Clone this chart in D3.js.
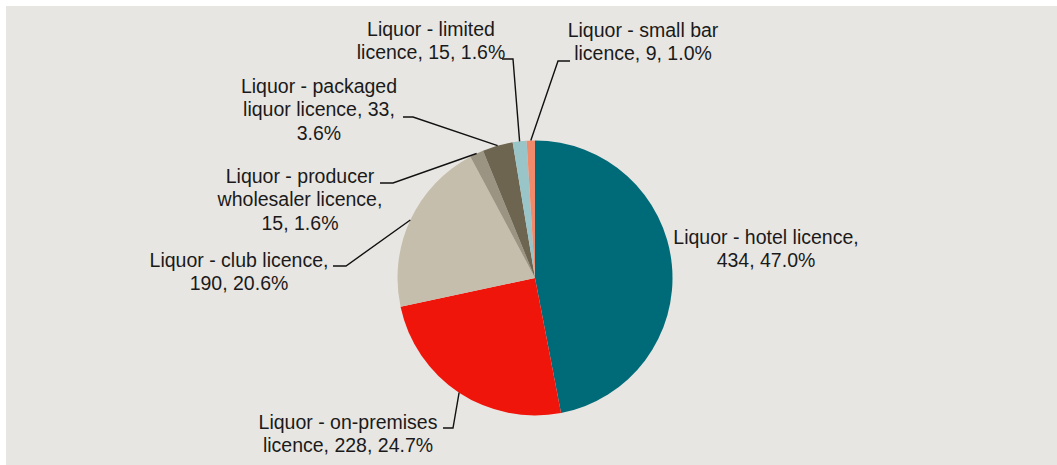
<!DOCTYPE html>
<html>
<head>
<meta charset="utf-8">
<script src="https://cdn.jsdelivr.net/npm/d3@7/dist/d3.min.js"></script>
<style>
  html, body { margin: 0; padding: 0; background: #ffffff; }
  svg { display: block; }
  text { font-family: "Liberation Sans", Arial, sans-serif; font-size: 19.5px; fill: #1a1a1a; }
</style>
</head>
<body>
<svg id="chart" width="1057" height="465"></svg>
<script>
// Licence categories, clockwise from 12 o'clock
const categories = [
  "Liquor - hotel licence",
  "Liquor - on-premises licence",
  "Liquor - club licence",
  "Liquor - producer wholesaler licence",
  "Liquor - packaged liquor licence",
  "Liquor - limited licence",
  "Liquor - small bar licence"
];
const counts = [434, 228, 190, 15, 33, 15, 9];
const sliceColors = ["#006b78", "#ef150b", "#c5beac", "#9c9482", "#6d6550", "#99c4c8", "#f08a6b"];

// Label placement: text centre, first baseline, wrap width, and leader (start point + elbow x)
const labelLayout = [
  { cx: 766, y: 244, wrap: 200, leader: null },
  { cx: 348, y: 429, wrap: 190, leader: [443, 428, 453] },
  { cx: 239, y: 267, wrap: 190, leader: [333, 266, 346] },
  { cx: 300, y: 183, wrap: 172, leader: [380, 183, 393] },
  { cx: 319, y: 93,  wrap: 163, leader: [403, 117, 413] },
  { cx: 431, y: 36,  wrap: 156, leader: [502, 59, 513] },
  { cx: 643, y: 37,  wrap: 158, leader: [570, 61, 558] }
];
const lineHeight = 23.3;

const svg = d3.select("#chart");
const W = 1057, H = 465;

// chart area background
svg.append("rect")
  .attr("x", 6).attr("y", 6)
  .attr("width", W - 6).attr("height", H - 6)
  .attr("fill", "#e8e6e2");

const cx = 535, cy = 278, radius = 137.5;
const total = d3.sum(counts);

const data = categories.map((c, i) => ({ name: c, value: counts[i], color: sliceColors[i], layout: labelLayout[i] }));

const pie = d3.pie().sort(null).value(d => d.value);
const arcs = pie(data);

const arc = d3.arc().innerRadius(0).outerRadius(radius);
const edge = d3.arc().innerRadius(radius).outerRadius(radius);

const g = svg.append("g").attr("transform", `translate(${cx},${cy})`);

g.selectAll("path.slice")
  .data(arcs)
  .join("path")
  .attr("class", "slice")
  .attr("d", arc)
  .attr("fill", d => d.data.color);

// leader lines: horizontal stub from the label, then to the slice's mid-arc point
const leaderGroup = svg.append("g");
arcs.forEach(a => {
  const L = a.data.layout.leader;
  if (!L) return;
  const [ex, ey] = edge.centroid(a);
  const pts = [[L[0], L[1]], [L[2], L[1]], [cx + ex, cy + ey]];
  leaderGroup.append("path")
    .attr("d", d3.line()(pts))
    .attr("fill", "none")
    .attr("stroke", "#111")
    .attr("stroke-width", 1.4);
});

// data labels, word-wrapped to each label's width
const fmtPct = d3.format(".1f");
const labelGroup = svg.append("g");
arcs.forEach(a => {
  const d = a.data;
  const full = `${d.name}, ${d.value}, ${fmtPct(d.value / total * 100)}%`;
  const words = full.split(" ");
  const t = labelGroup.append("text")
    .attr("text-anchor", "middle")
    .attr("x", d.layout.cx)
    .attr("y", d.layout.y);
  const lines = [];
  let cur = [];
  const probe = labelGroup.append("text").attr("visibility", "hidden");
  words.forEach(w => {
    const trial = cur.concat(w).join(" ");
    probe.text(trial);
    if (cur.length && probe.node().getComputedTextLength() > d.layout.wrap) {
      lines.push(cur.join(" "));
      cur = [w];
    } else {
      cur.push(w);
    }
  });
  if (cur.length) lines.push(cur.join(" "));
  probe.remove();
  lines.forEach((ln, i) => {
    t.append("tspan")
      .attr("x", d.layout.cx)
      .attr("y", d.layout.y + i * lineHeight)
      .text(ln);
  });
});
</script>
</body>
</html>
